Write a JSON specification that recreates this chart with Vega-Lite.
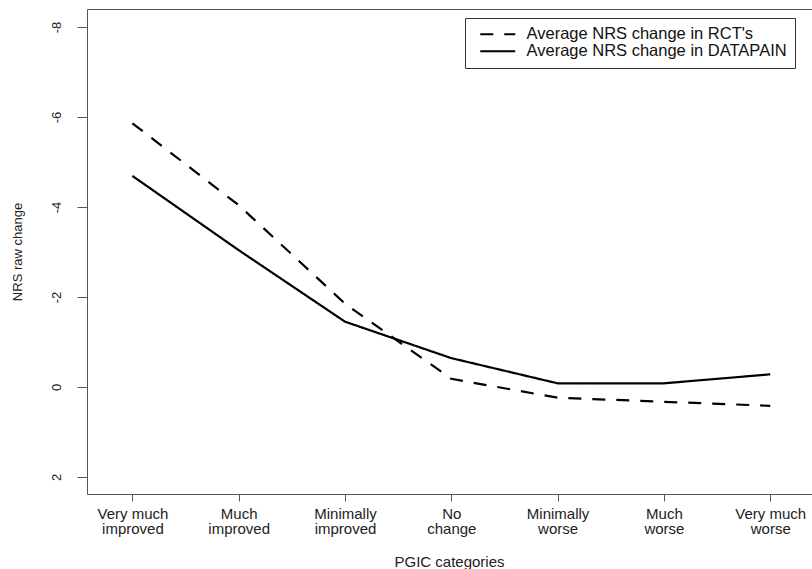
{
  "$schema": "https://vega.github.io/schema/vega-lite/v6.json",
  "width": 725,
  "height": 485,
  "autosize": {"type": "none"},
  "padding": {"left": 87, "top": 9, "right": 0, "bottom": 75},
  "background": "white",
  "config": {
    "view": {"stroke": null},
    "font": "Liberation Sans",
    "axis": {"grid": false, "domainColor": "#555", "tickColor": "#555", "labelColor": "#222", "titleColor": "#222", "titleFontWeight": "normal", "labelFont": "Liberation Sans", "titleFont": "Liberation Sans"}
  },
  "data": {
    "values": [
      {"series": "Average NRS change in RCT's", "cat": 1, "value": -5.86},
      {"series": "Average NRS change in RCT's", "cat": 2, "value": -4.04},
      {"series": "Average NRS change in RCT's", "cat": 3, "value": -1.85},
      {"series": "Average NRS change in RCT's", "cat": 4, "value": -0.18},
      {"series": "Average NRS change in RCT's", "cat": 5, "value": 0.24},
      {"series": "Average NRS change in RCT's", "cat": 6, "value": 0.33},
      {"series": "Average NRS change in RCT's", "cat": 7, "value": 0.42},
      {"series": "Average NRS change in DATAPAIN", "cat": 1, "value": -4.69},
      {"series": "Average NRS change in DATAPAIN", "cat": 2, "value": -3.04},
      {"series": "Average NRS change in DATAPAIN", "cat": 3, "value": -1.45},
      {"series": "Average NRS change in DATAPAIN", "cat": 4, "value": -0.64},
      {"series": "Average NRS change in DATAPAIN", "cat": 5, "value": -0.08},
      {"series": "Average NRS change in DATAPAIN", "cat": 6, "value": -0.08},
      {"series": "Average NRS change in DATAPAIN", "cat": 7, "value": -0.28}
    ]
  },
  "layer": [
    {
      "mark": {"type": "line", "color": "black", "strokeWidth": 2.2},
      "encoding": {
        "x": {
          "field": "cat", "type": "quantitative",
          "scale": {"domain": [0.573, 7.393], "nice": false, "zero": false},
          "axis": {
            "orient": "bottom",
            "values": [1, 2, 3, 4, 5, 6, 7],
            "labelExpr": "[['Very much','improved'],['Much','improved'],['Minimally','improved'],['No','change'],['Minimally','worse'],['Much','worse'],['Very much','worse']][datum.value - 1]",
            "labelFontSize": 15,
            "labelLineHeight": 15.5,
            "labelBaseline": "top",
            "labelPadding": 5,
            "tickSize": 7,
            "labelFlush": false,
            "labelOverlap": false,
            "title": "PGIC categories",
            "titleFontSize": 15,
            "titleBaseline": "alphabetic",
            "titleY": 72,
            "titleX": 362
          }
        },
        "y": {
          "field": "value", "type": "quantitative",
          "scale": {"domain": [-8.4, 2.38], "nice": false, "zero": false, "reverse": true},
          "axis": {
            "values": [-8, -6, -4, -2, 0, 2],
            "labelExpr": "'' + datum.value",
            "labelAngle": 270,
            "labelAlign": "center",
            "labelBaseline": "alphabetic",
            "labelPadding": 17,
            "labelFontSize": 13,
            "tickSize": 10,
            "title": "NRS raw change",
            "titleFontSize": 13,
            "titleAngle": 270,
            "titleAlign": "center",
            "titleBaseline": "middle",
            "titleX": -70,
            "titleY": 242.5
          }
        },
        "strokeDash": {
          "field": "series", "type": "nominal",
          "scale": {"domain": ["Average NRS change in RCT's", "Average NRS change in DATAPAIN"], "range": [[13, 11], [1, 0]]},
          "legend": {
            "orient": "none",
            "legendX": 378,
            "legendY": 9,
            "title": null,
            "padding": 8,
            "strokeColor": "#333",
            "fillColor": "white",
            "symbolType": "M-3.5,0H3.5",
            "symbolSize": 100,
            "symbolOffset": 16.5,
            "symbolStrokeWidth": 2.2,
            "symbolStrokeColor": "black",
            "labelFontSize": 16.5,
            "labelColor": "#111",
            "labelOffset": 20.5,
            "labelLimit": 400,
            "rowPadding": -2.5
          }
        }
      }
    },
    {
      "mark": {"type": "point", "opacity": 0},
      "encoding": {
        "x": {
          "field": "cat", "type": "quantitative",
          "axis": {"orient": "top", "ticks": false, "labels": false, "title": null, "domain": true}
        },
        "y": {"field": "value", "type": "quantitative"}
      }
    }
  ],
  "resolve": {"axis": {"x": "independent"}}
}
